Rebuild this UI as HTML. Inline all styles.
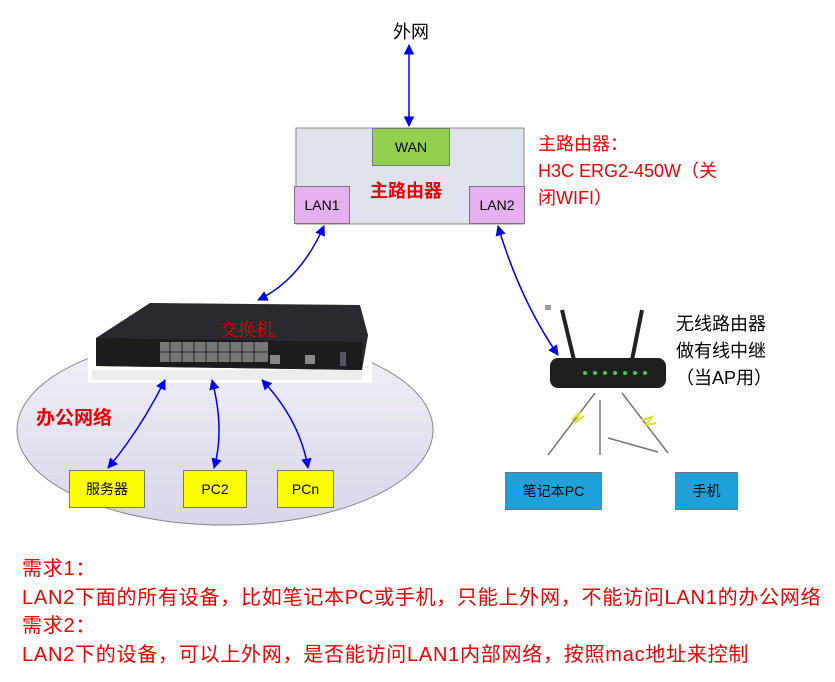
<!DOCTYPE html>
<html><head><meta charset="utf-8"><style>
body{margin:0;width:835px;height:682px;background:#fff;overflow:hidden;position:relative;font-family:"Liberation Sans","Noto Sans CJK SC",sans-serif}
.a{position:absolute}
.box{position:absolute;box-sizing:border-box;border:1px solid #777;display:flex;align-items:center;justify-content:center;font-size:14px}
.red{color:#e00}
</style></head><body>
<svg class="a" style="left:0;top:0" width="835" height="682">
<defs>
<linearGradient id="g" x1="0" y1="0" x2="0" y2="1"><stop offset="0" stop-color="#f1f1f8"/><stop offset="1" stop-color="#d8d6ea"/></linearGradient>
<marker id="m" viewBox="0 0 10 10" refX="9" refY="5" markerWidth="7" markerHeight="7" orient="auto-start-reverse"><path d="M0,0L10,5L0,10z" fill="#0000ee"/></marker>
</defs>
<ellipse cx="225" cy="430" rx="208" ry="95" fill="url(#g)" stroke="#888"/>
<rect x="296" y="128" width="228" height="96" fill="#dfe3ee" stroke="#888"/>
<rect x="88" y="300" width="284" height="83" fill="#fff"/>
<path d="M96,338 L150,303 L360,305 L368,335 L362,370 L96,366 Z" fill="#2a2a2e"/>
<path d="M96,338 L362,342 L362,370 L96,366 Z" fill="#1c1c1f"/>
<rect x="160" y="342" width="108" height="20" fill="#777"/>
<g stroke="#2a2a2a" stroke-width="1"><line x1="170" y1="342" x2="170" y2="362"/><line x1="182" y1="342" x2="182" y2="362"/><line x1="194" y1="342" x2="194" y2="362"/><line x1="206" y1="342" x2="206" y2="362"/><line x1="218" y1="342" x2="218" y2="362"/><line x1="230" y1="342" x2="230" y2="362"/><line x1="242" y1="342" x2="242" y2="362"/><line x1="254" y1="342" x2="254" y2="362"/><line x1="160" y1="352" x2="268" y2="352"/></g>
<rect x="270" y="355" width="10" height="9" fill="#888"/><rect x="305" y="355" width="10" height="9" fill="#888"/><rect x="340" y="352" width="6" height="14" fill="#556"/>
<rect x="92" y="370" width="270" height="10" fill="#e4e4e4" opacity="0.7"/>
<g stroke="#0000ee" stroke-width="1.5" fill="none">
<line x1="409" y1="45" x2="409" y2="126" marker-start="url(#m)" marker-end="url(#m)"/>
<path d="M324,226 Q300,280 258,300" marker-start="url(#m)" marker-end="url(#m)"/>
<path d="M498,226 Q520,300 558,355" marker-start="url(#m)" marker-end="url(#m)"/>
<path d="M165,380 Q140,430 108,468" marker-start="url(#m)" marker-end="url(#m)"/>
<path d="M212,380 Q225,430 214,468" marker-start="url(#m)" marker-end="url(#m)"/>
<path d="M262,380 Q300,420 308,468" marker-start="url(#m)" marker-end="url(#m)"/>
</g>
<rect x="545" y="305" width="6" height="5" fill="#999"/>
<line x1="562" y1="310" x2="574" y2="360" stroke="#222" stroke-width="4"/>
<line x1="642" y1="310" x2="632" y2="360" stroke="#222" stroke-width="4"/>
<rect x="550" y="358" width="116" height="30" rx="8" fill="#1e1e1e"/>
<g fill="#4c4"><circle cx="585" cy="373" r="2"/><circle cx="595" cy="373" r="2"/><circle cx="605" cy="373" r="2"/><circle cx="615" cy="373" r="2"/><circle cx="625" cy="373" r="2"/><circle cx="635" cy="373" r="2"/><circle cx="645" cy="373" r="2"/></g>
<g stroke="#777" stroke-width="1.5"><line x1="595" y1="393" x2="548" y2="455"/><line x1="622" y1="393" x2="668" y2="453"/><line x1="600" y1="400" x2="600" y2="455"/><line x1="608" y1="438" x2="658" y2="452"/></g>
<path d="M572,420l8,-8l-4,10l8,-6" stroke="#dd3" stroke-width="2" fill="none"/>
<path d="M642,420l10,-3l-6,8l10,-2" stroke="#dd3" stroke-width="2" fill="none"/>
</svg>
<div class="a" style="left:393px;top:18px;font-size:18px">外网</div>
<div class="box" style="left:372px;top:128px;width:78px;height:38px;background:#92d050">WAN</div>
<div class="box" style="left:294px;top:186px;width:56px;height:38px;background:#e6b0f0">LAN1</div>
<div class="box" style="left:469px;top:186px;width:56px;height:38px;background:#e6b0f0">LAN2</div>
<div class="a red" style="left:370px;top:177px;font-size:18px;font-weight:bold">主路由器</div>
<div class="a red" style="left:538px;top:131px;font-size:18px;line-height:27px">主路由器：<br>H3C ERG2-450W（关<br>闭WIFI）</div>
<div class="a red" style="left:220px;top:316px;font-size:18px;font-family:'Liberation Serif','Noto Serif CJK SC',serif">交换机</div>
<div class="a red" style="left:36px;top:403px;font-size:19px;font-weight:bold">办公网络</div>
<div class="a" style="left:676px;top:311px;font-size:18px;line-height:27px">无线路由器<br>做有线中继<br>（当AP用）</div>
<div class="box" style="left:69px;top:470px;width:76px;height:38px;background:#ff0">服务器</div>
<div class="box" style="left:183px;top:470px;width:64px;height:38px;background:#ff0">PC2</div>
<div class="box" style="left:277px;top:470px;width:57px;height:38px;background:#ff0">PCn</div>
<div class="box" style="left:505px;top:472px;width:97px;height:38px;background:#1ea0d8">笔记本PC</div>
<div class="box" style="left:675px;top:472px;width:63px;height:38px;background:#1ea0d8">手机</div>
<div class="a red" style="left:22px;top:555px;font-size:20px;line-height:28.5px;white-space:nowrap;letter-spacing:0.75px">需求1：<br>LAN2下面的所有设备，比如笔记本PC或手机，只能上外网，不能访问LAN1的办公网络<br>需求2：<br>LAN2下的设备，可以上外网，是否能访问LAN1内部网络，按照mac地址来控制</div>
</body></html>
